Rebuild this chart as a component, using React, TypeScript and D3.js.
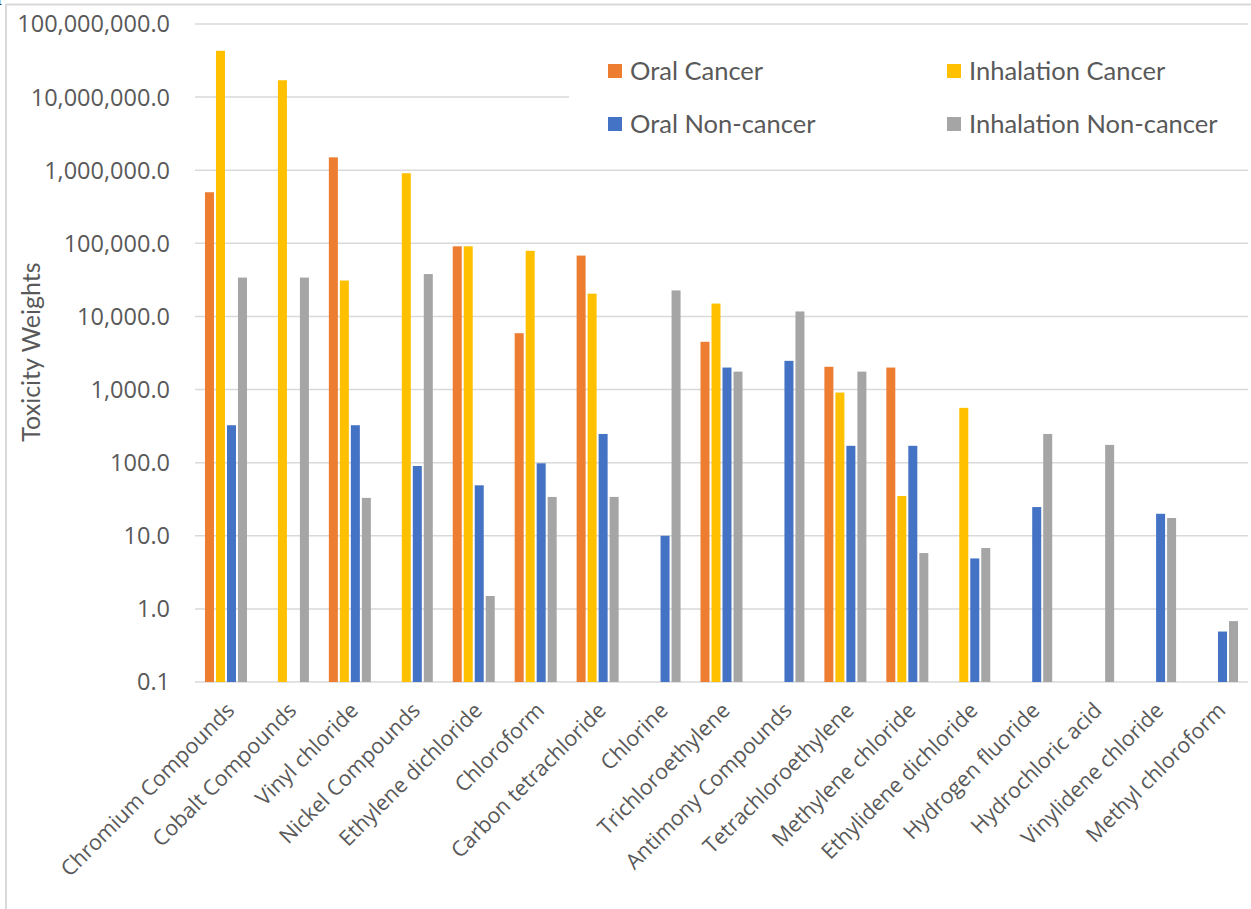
import React from "react";
import * as d3 from "d3";

const categories = [
  "Chromium Compounds", "Cobalt Compounds", "Vinyl chloride", "Nickel Compounds",
  "Ethylene dichloride", "Chloroform", "Carbon tetrachloride", "Chlorine",
  "Trichloroethylene", "Antimony Compounds", "Tetrachloroethylene", "Methylene chloride",
  "Ethylidene dichloride", "Hydrogen fluoride", "Hydrochloric acid", "Vinylidene chloride",
  "Methyl chloroform",
];

const oralCancer = [500000, null, 1500000, null, 91000, 5900, 68000, null, 4500, null, 2050, 2000, null, null, null, null, null];
const inhalationCancer = [43000000, 17000000, 31000, 910000, 91000, 79000, 20500, null, 15000, null, 910, 35, 562, null, null, null, null];
const oralNonCancer = [325, null, 325, 90, 49, 98, 247, 10, 2000, 2470, 170, 170, 4.9, 24.7, null, 20, 0.49];
const inhalationNonCancer = [34000, 34000, 33, 38000, 1.5, 34, 34, 22700, 1760, 11700, 1760, 5.8, 6.8, 247, 175, 17.5, 0.68];

const seriesNames = ["Oral Cancer", "Inhalation Cancer", "Oral Non-cancer", "Inhalation Non-cancer"];
const seriesValues = [oralCancer, inhalationCancer, oralNonCancer, inhalationNonCancer];
const seriesColors = ["#ED7D31", "#FFC000", "#4472C4", "#A5A5A5"];
const tickValues = [0.1, 1, 10, 100, 1000, 10000, 100000, 1000000, 10000000, 100000000];

const W = 1251, H = 909;
const left = 195, right = 1248, top = 24, bottom = 682;

export default function App() {
  const x = d3.scaleBand<string>().domain(categories).range([left, right]).paddingInner(0).paddingOuter(0);
  const y = d3.scaleLog().domain([0.1, 1e8]).range([bottom, top]);
  const barW = 9;
  const step = 11;
  const fmt = d3.format(",.1f");
  const gridColor = "#D9D9D9";
  const textColor = "#595959";

  return (
    <svg width={W} height={H} style={{ position: "absolute", left: 0, top: 0, background: "#fff" }}>
      <rect x={0} y={0} width={W} height={H} fill="#fff" />
      <text x={-3} y={0} fontFamily="Liberation Serif" fontSize={20} fill="#000">production.</text>
      <line x1={6} x2={W} y1={4.5} y2={4.5} stroke={gridColor} strokeWidth={2} />
      <line x1={6} x2={6} y1={4} y2={H} stroke={gridColor} strokeWidth={2} />

      {tickValues.map((t) => (
        <g key={t}>
          <line x1={left} x2={right} y1={y(t)} y2={y(t)} stroke={gridColor} strokeWidth={1.5} />
          <text x={170} y={y(t)} dy="0.36em" textAnchor="end" fontFamily="Open Sans" fontSize={23.5} fill={textColor}>
            {fmt(t)}
          </text>
        </g>
      ))}

      {categories.map((c, i) => {
        const cx = (x(c) as number) + x.bandwidth() / 2;
        return (
          <g key={c}>
            {seriesValues.map((vals, s) => {
              const v = vals[i];
              if (v == null) return null;
              const bx = cx - (4 * barW + 3 * (step - barW)) / 2 + s * step;
              return (
                <rect key={s} x={bx} y={y(v)} width={barW} height={bottom - y(v)} fill={seriesColors[s]} />
              );
            })}
            <text
              transform={`translate(${cx - 1},${701}) rotate(-45)`}
              textAnchor="end"
              dy="0.71em"
              fontFamily="Open Sans"
              fontSize={21.5}
              fill={textColor}
            >
              {c}
            </text>
          </g>
        );
      })}

      <text
        transform={`translate(${31},${352}) rotate(-90)`}
        textAnchor="middle"
        dy="0.35em"
        fontFamily="Lato"
        fontSize={25}
        fill={textColor}
      >
        Toxicity Weights
      </text>

      <rect x={569} y={40} width={W - 569} height={110} fill="#fff" />
      {seriesNames.map((n, s) => {
        const col = s % 2;
        const row = Math.floor(s / 2);
        const lx = col === 0 ? 608 : 947;
        const ly = row === 0 ? 71 : 124;
        return (
          <g key={n}>
            <rect x={lx} y={ly - 7} width={14} height={14} fill={seriesColors[s]} />
            <text x={lx + 22} y={ly} dy="0.36em" fontFamily="Lato" fontSize={25.5} fill={textColor}>
              {n}
            </text>
          </g>
        );
      })}
    </svg>
  );
}
